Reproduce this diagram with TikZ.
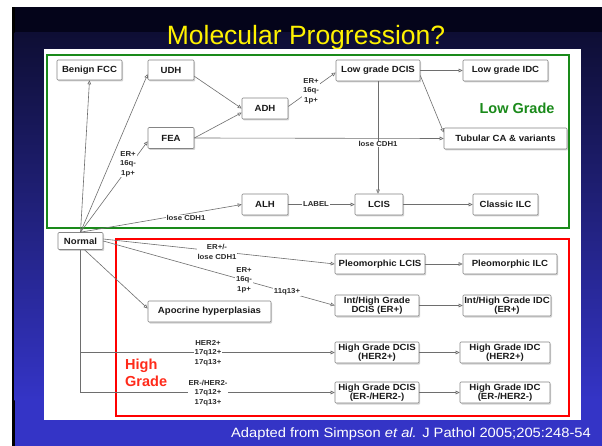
\documentclass[tikz,border=0pt]{standalone}
\usepackage{fontspec}
\setmainfont{Liberation Sans}
\newfontfamily\nfont[FakeStretch=1.08]{Liberation Sans}
\newfontfamily\footfont[FakeStretch=1.09]{Liberation Sans}
\usetikzlibrary{arrows.meta,shadows,calc}
\definecolor{edgegray}{HTML}{6E6E6E}
\definecolor{boxgray}{HTML}{858585}
\definecolor{boxtext}{HTML}{1A1A1A}
\definecolor{lbltext}{HTML}{2A2A2A}
\definecolor{lowgreen}{HTML}{1A8A1A}
\definecolor{highred}{HTML}{FF2A1A}
\definecolor{bgtop}{HTML}{04041A}
\definecolor{bgmid}{HTML}{0E0E34}
\definecolor{bgbot}{HTML}{3434C6}
\begin{document}
\begin{tikzpicture}[x=1pt,y=-1pt,
  box/.style={draw=boxgray, line width=0.6pt, fill=white, rounded corners=1pt,
    drop shadow={shadow xshift=1.2pt,shadow yshift=-1.5pt,opacity=0.35},
    font=\nfont\bfseries\fontsize{8.9}{9.2}\selectfont, text=boxtext, align=center, inner sep=0pt},
  lbl/.style={fill=white, inner sep=0.8pt, font=\nfont\bfseries\fontsize{7.2}{9.3}\selectfont, text=lbltext, align=center},
  arr/.style={draw=edgegray, line width=0.6pt, -{Triangle[open,length=4pt,width=3.6pt]}},
  ln/.style={draw=edgegray, line width=0.6pt},
]
\useasboundingbox (0,0) rectangle (602,446);
% background slide
\fill[white] (0,0) rectangle (602,446);
\fill[black] (12,7) rectangle (602,446);
\fill[bgtop] (14.5,7) rectangle (602,33);
\shade[top color=bgmid, bottom color=bgbot] (14.5,33) rectangle (602,400);
\fill[bgbot] (14.5,400) rectangle (602,446);
% title and footnote
\node[anchor=base, text=yellow, font=\fontsize{26.5}{30}\selectfont, inner sep=0pt] (title) at (306,45) {Molecular Progression?};
\node[anchor=base east, text=white, font=\footfont\fontsize{13.5}{15}\selectfont, inner sep=0pt] (foot) at (591,437.5) {Adapted from Simpson \textit{et al.} J Pathol 2005;205:248-54};
% white panel and group frames
\fill[white] (44,49) rectangle (581,420);
\draw[lowgreen, line width=1.8pt] (47,55) rectangle (569,228);
\draw[red, line width=1.8pt] (116,239) rectangle (569,416);
\node[text=lowgreen, font=\bfseries\fontsize{14.5}{16}\selectfont, inner sep=0pt] (lowg) at (517,108) {Low Grade};
\node[anchor=west, text=highred, align=left, font=\bfseries\fontsize{14.5}{17}\selectfont, inner sep=0pt] (highg) at (125,373) {High\\Grade};
% boxes
\node[box, minimum width=65pt, minimum height=20pt] (fcc) at (89.5,70) {Benign FCC};
\node[box, minimum width=46pt, minimum height=20pt] (udh) at (171,70) {UDH};
\node[box, minimum width=46pt, minimum height=21pt] (adh) at (265,108.5) {ADH};
\node[box, minimum width=46pt, minimum height=21pt] (fea) at (171,138) {FEA};
\node[box, minimum width=46pt, minimum height=21pt] (alh) at (265,204.5) {ALH};
\node[box, minimum width=84pt, minimum height=21pt] (lgdcis) at (378,70.5) {Low grade DCIS};
\node[box, minimum width=85pt, minimum height=21pt] (lgidc) at (505.5,70.5) {Low grade IDC};
\node[box, minimum width=123pt, minimum height=21pt] (tub) at (505.5,138.5) {Tubular CA \& variants};
\node[box, minimum width=48pt, minimum height=21pt] (lcis) at (379,204.5) {LCIS};
\node[box, minimum width=65pt, minimum height=21pt] (cilc) at (505.5,204.5) {Classic ILC};
\node[box, minimum width=45pt, minimum height=17pt] (normal) at (80.5,241) {Normal};
\node[box, minimum width=123pt, minimum height=21pt] (apo) at (209.5,311.5) {Apocrine hyperplasias};
\node[box, minimum width=90pt, minimum height=20pt] (plcis) at (380,264) {Pleomorphic LCIS};
\node[box, minimum width=94pt, minimum height=20pt] (pilc) at (510,264) {Pleomorphic ILC};
\node[box, minimum width=84pt, minimum height=21pt] (ihdcis) at (377,305.5) {Int/High Grade\\DCIS (ER+)};
\node[box, minimum width=88pt, minimum height=21pt] (ihidc) at (507,305.5) {Int/High Grade IDC\\(ER+)};
\node[box, minimum width=84pt, minimum height=21pt] (hdcisa) at (377,352.5) {High Grade DCIS\\(HER2+)};
\node[box, minimum width=90pt, minimum height=21pt] (hidca) at (505,352.5) {High Grade IDC\\(HER2+)};
\node[box, minimum width=84pt, minimum height=21pt] (hdcisb) at (377,392.5) {High Grade DCIS\\(ER-/HER2-)};
\node[box, minimum width=90pt, minimum height=21pt] (hidcb) at (505,392.5) {High Grade IDC\\(ER-/HER2-)};
% connectors
\draw[arr] (normal.north) -- (fcc.south);
\draw[arr] (normal.north) -- (udh.190);
\draw[arr] (normal.north) -- (fea.188);
\draw[arr] (normal.north) -- (alh.west);
\draw[arr] (udh.345) -- (adh.west);
\draw[arr] (fea.east) -- (adh.190);
\draw[arr] (fea.east) -- (tub.west);
\draw[arr] ($(adh.east)+(0,-2)$) -- ($(lgdcis.west)+(0,2)$);
\draw[arr] (lgdcis.east) -- (lgidc.west);
\draw[arr] ($(lgdcis.east)+(0,5)$) -- ($(tub.west)+(0,-6)$);
\draw[arr] (lgdcis.south) -- (lgdcis.south |- lcis.north);
\draw[arr] (alh.east) -- (lcis.west);
\draw[arr] (lcis.east) -- (cilc.west);
\draw[arr] ($(normal.east)+(0,-2)$) -- (plcis.west);
\draw[arr] (normal.east) -- (ihdcis.west);
\draw[arr] ($(normal.south)+(4,0)$) -- ($(apo.west)+(0,-3)$);
\draw[ln] (normal.south) -- (normal.south |- hdcisb.west);
\draw[arr] (normal.south |- hdcisa.west) -- (hdcisa.west);
\draw[arr] (normal.south |- hdcisb.west) -- (hdcisb.west);
\draw[arr] (plcis.east) -- (pilc.west);
\draw[arr] (ihdcis.east) -- (ihidc.west);
\draw[arr] (hdcisa.east) -- (hidca.west);
\draw[arr] (hdcisb.east) -- (hidcb.west);
% connector labels
\node[lbl] (lfea) at (128,164) {ER+\\16q-\\1p+};
\node[lbl] (lalh) at (186,218) {lose CDH1};
\node[lbl] (ladh) at (311,91) {ER+\\16q-\\1p+};
\node[lbl] (llcis) at (378,144) {lose CDH1};
\node[lbl] (llab) at (316,204.5) {LABEL};
\node[lbl] (lplcis) at (217,252) {ER+/-\\lose CDH1};
\node[lbl] (lih) at (244,280) {ER+\\16q-\\1p+};
\node[lbl] (lihb) at (287,291.5) {11q13+};
\node[lbl] (lha) at (208,353) {HER2+\\17q12+\\17q13+};
\node[lbl] (lhb) at (208,393) {ER-/HER2-\\17q12+\\17q13+};
\end{tikzpicture}
\end{document}
